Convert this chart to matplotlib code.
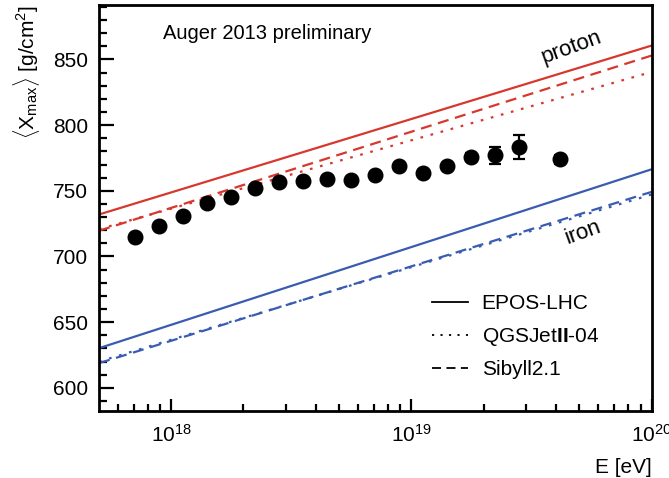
import numpy as np
import matplotlib.pyplot as plt
from matplotlib.ticker import MultipleLocator, LogLocator, NullFormatter

plt.rcParams['font.family'] = ['Liberation Sans', 'DejaVu Sans']
plt.rcParams['mathtext.fontset'] = 'custom'
plt.rcParams['mathtext.rm'] = 'Liberation Sans'
plt.rcParams['mathtext.it'] = 'Liberation Sans:italic'
plt.rcParams['mathtext.bf'] = 'Liberation Sans:bold'

# Auger 2013 data (log10 E, <Xmax>, error)
lg_e = [17.85, 17.95, 18.05, 18.15, 18.25, 18.35, 18.45, 18.55, 18.65,
        18.75, 18.85, 18.95, 19.05, 19.15, 19.25, 19.35, 19.45, 19.62]
xmax = [714.5, 723.0, 730.7, 740.8, 745.4, 752.2, 756.8, 757.3, 759.0,
        758.0, 761.9, 768.9, 763.8, 768.7, 775.8, 777.0, 783.4, 774.0]
xmax_err = [1.5, 1.5, 1.5, 1.5, 1.5, 1.5, 1.5, 1.5, 1.5,
            1.5, 1.5, 2.0, 2.0, 2.5, 3.0, 6.5, 9.4, 3.5]

# model lines: value at 10^17.7 eV and at 10^20 eV
lg_ends = [17.7, 20.0]
models = ['EPOS-LHC', r'QGSJet$\mathbf{II}$-04', 'Sibyll2.1']
styles = ['-', (0, (1.2, 3.5)), (0, (5, 3))]
proton = [[732.0, 860.6], [720.8, 840.5], [719.6, 853.0]]
iron = [[630.2, 766.4], [620.0, 747.2], [618.8, 749.2]]

red = '#d7372d'
blue = '#3a5cb0'

fig = plt.figure(figsize=(6.69, 4.78), dpi=100)
ax = fig.add_axes([0.148, 0.140, 0.826, 0.849])

e_ends = [10 ** v for v in lg_ends]
for name, ls, p, fe in zip(models, styles, proton, iron):
    ax.plot(e_ends, p, color=red, ls=ls, lw=1.6)
    ax.plot(e_ends, fe, color=blue, ls=ls, lw=1.6)
    ax.plot([], [], color='black', ls=ls, lw=1.3, label=name)

energy = [10 ** v for v in lg_e]
ax.errorbar(energy, xmax, yerr=xmax_err, fmt='o', color='black', ms=10.5,
            elinewidth=1.6, capsize=4, capthick=1.6, zorder=5)

ax.set_xscale('log')
ax.set_xlim(10 ** 17.7, 1e20)
ax.set_ylim(582.3, 891.3)

ax.yaxis.set_major_locator(MultipleLocator(50))
ax.yaxis.set_minor_locator(MultipleLocator(10))
ax.xaxis.set_major_locator(LogLocator(base=10, numticks=10))
ax.xaxis.set_minor_locator(LogLocator(base=10, subs=np.arange(2, 10), numticks=20))
ax.xaxis.set_minor_formatter(NullFormatter())

ax.tick_params(which='both', direction='in', top=False, right=False, width=1.6,
               labelsize=15)
ax.tick_params(axis='y', which='major', length=11, pad=8)
ax.tick_params(axis='y', which='minor', length=6)
ax.tick_params(axis='x', which='major', length=9, pad=9)
ax.tick_params(axis='x', which='minor', length=5)
for s in ax.spines.values():
    s.set_linewidth(2)

ax.set_ylabel(r'$\langle\mathrm{X_{max}}\rangle$ [g/cm$^{2}$]', fontsize=15,
              loc='top', labelpad=8)
ax.set_xlabel('E [eV]', fontsize=15, loc='right', labelpad=9)

ax.text(0.115, 0.93, 'Auger 2013 preliminary', transform=ax.transAxes, fontsize=14.5,
        va='center', ha='left')
ax.text(0.855, 0.895, 'proton', transform=ax.transAxes, fontsize=16, rotation=20,
        ha='center', va='center')
ax.text(0.875, 0.44, 'iron', transform=ax.transAxes, fontsize=16, rotation=20,
        ha='center', va='center')

ax.legend(loc='lower left', bbox_to_anchor=(0.602, 0.078), frameon=False, fontsize=15,
          handlelength=1.75, labelspacing=0.6, handletextpad=0.65,
          borderaxespad=0, borderpad=0)

fig.savefig('out.png', dpi=100)
